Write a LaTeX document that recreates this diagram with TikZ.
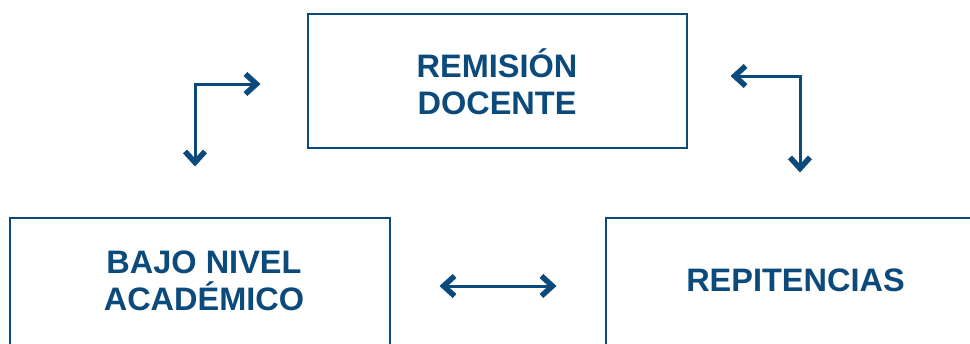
\documentclass[tikz,border=0pt]{standalone}
\usepackage{fontspec}
\setmainfont{Liberation Sans}
\usetikzlibrary{arrows.meta}
\definecolor{navy}{HTML}{0B4A7B}
\tikzset{
  box/.style={draw=navy, line width=2pt, inner sep=0pt, anchor=north west},
  lbl/.style={text=navy, font=\fontsize{32.5}{37}\selectfont\bfseries, align=center, inner sep=0pt},
  chev/.tip={Straight Barb[length=11pt,width=20pt,line width=5.5pt]},
  conn/.style={draw=navy, line width=3pt, arrows={chev-chev}}
}
\begin{document}
\begin{tikzpicture}[x=1pt,y=-1pt]
\useasboundingbox (0,0) rectangle (970,343);
\clip (0,0) rectangle (970,343);
\node[box, minimum width=379pt, minimum height=134pt] (rd) at (307,13) {};
\node[box, minimum width=380pt, minimum height=180pt] (bn) at (9,217) {};
\node[box, minimum width=400pt, minimum height=180pt] (rp) at (605,217) {};
\node[lbl] (trd) at (497,82) {REMISIÓN\\DOCENTE};
\node[lbl] (tbn) at (204,281) {BAJO NIVEL\\ACADÉMICO};
\node[lbl] (trp) at (795.5,280) {REPITENCIAS};
\coordinate (a1) at (195,166.5);
\coordinate (a2) at (260.5,84);
\coordinate (b1) at (730.5,76);
\coordinate (b2) at (800,172.5);
\coordinate (c1) at (439.5,286);
\coordinate (c2) at (556.5,286);
\draw[conn] (a1) |- (a2);
\draw[conn] (b1) -| (b2);
\draw[conn] (c1) -- (c2);
\end{tikzpicture}
\end{document}
